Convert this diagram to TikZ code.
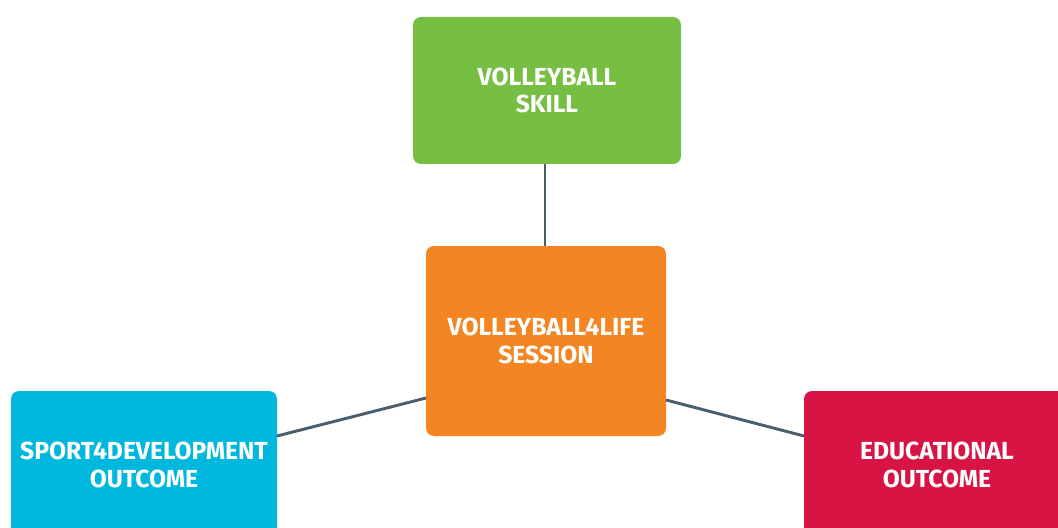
\documentclass[tikz,border=0pt]{standalone}
\usepackage{fontspec}
\setmainfont{Fira Sans}
\usetikzlibrary{positioning}
\definecolor{skillgreen}{HTML}{76BF43}
\definecolor{sessionorange}{HTML}{F38522}
\definecolor{sportcyan}{HTML}{00B8DE}
\definecolor{edured}{HTML}{D81444}
\definecolor{linkgrey}{HTML}{4B5E6C}
\tikzset{
	box/.style={rectangle, rounded corners=6pt, inner sep=0pt, outer sep=0pt, align=center,
		text=white, font=\fontsize{18.5}{20.5}\selectfont\bfseries},
	link/.style={draw=linkgrey, line width=2.2pt}
}

\begin{document}
\begin{tikzpicture}[x=0.75pt, y=-0.75pt]
	\clip (0, 0) rectangle (1058, 528);

	% --- boxes ---
	\node[box, fill=skillgreen, minimum width=201pt, minimum height=110.25pt] (skill) at (547, 90.5) {VOLLEYBALL\\SKILL};
	\node[box, fill=sessionorange, minimum width=180pt, minimum height=142.5pt] (session) at (546, 341) {VOLLEYBALL4LIFE\\SESSION};
	\node[box, fill=sportcyan, minimum width=199.5pt, minimum height=111pt] (sport) at (144, 465) {SPORT4DEVELOPMENT\\OUTCOME};
	\node[box, fill=edured, minimum width=199.5pt, minimum height=111pt] (edu) at (937, 465) {EDUCATIONAL\\OUTCOME};

	% --- links ---
	\draw[link] ([xshift=-1.5pt]skill.south) -- ([xshift=-1.5pt]skill.south |- session.north);
	\draw[link] ([yshift=21.75pt]sport.east) -- ([yshift=-42.75pt]session.west);
	\draw[link] ([yshift=-44.25pt]session.east) -- ([yshift=21.75pt]edu.west);

\end{tikzpicture}
\end{document}
